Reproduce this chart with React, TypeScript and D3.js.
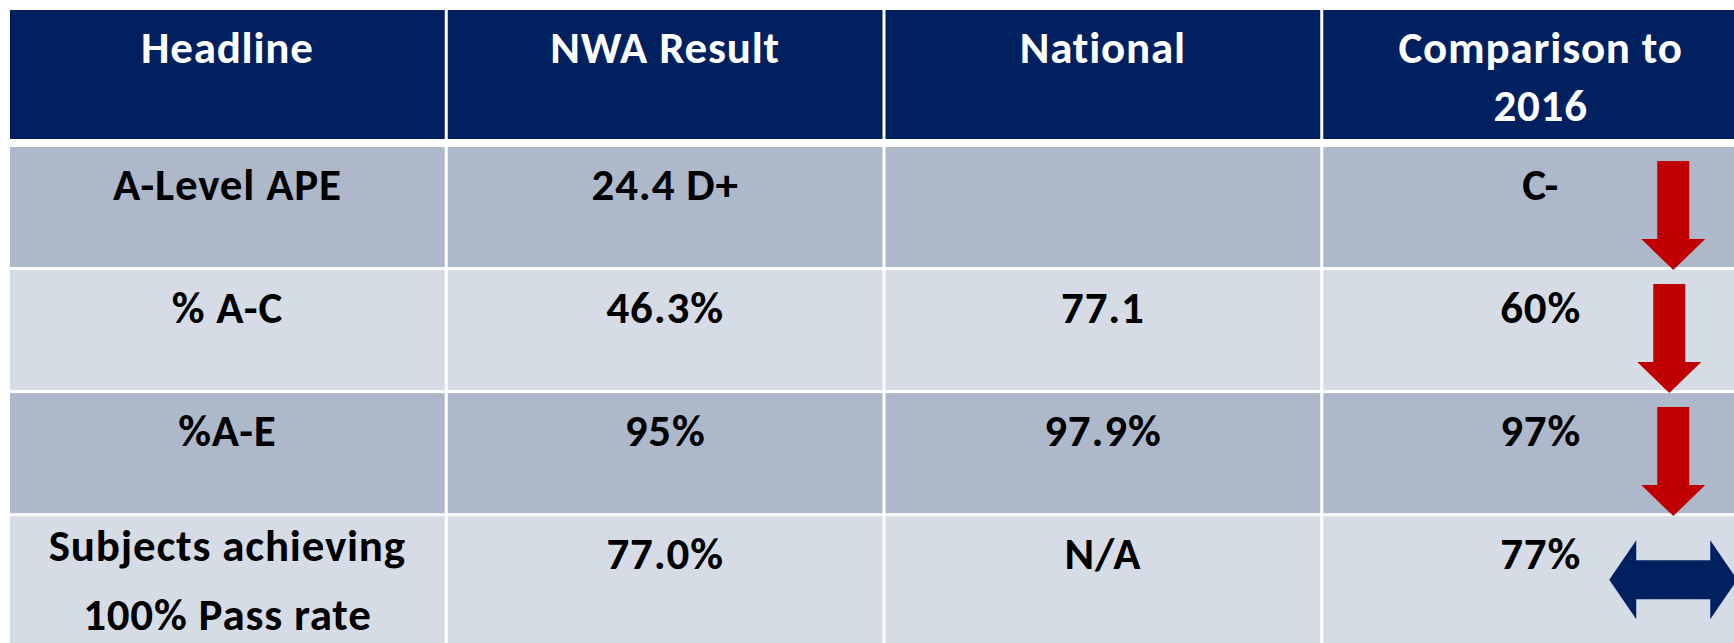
import React from 'react';
import * as d3 from 'd3';

// table content
const headers: string[][] = [['Headline'], ['NWA Result'], ['National'], ['Comparison to', '2016']];
const rowLabels: string[][] = [
  ['A-Level APE'],
  ['% A-C'],
  ['%A-E'],
  ['Subjects achieving', '100% Pass rate']
];
const nwaResults = ['24.4 D+', '46.3%', '95%', '77.0%'];
const nationalValues = ['', '77.1', '97.9%', 'N/A'];
const comparison2016 = ['C-', '60%', '97%', '77%'];
const trends = ['down', 'down', 'down', 'level'];

const W = 1734;
const H = 643;
const FONT = "Carlito, Lato, 'Open Sans', sans-serif";

const NAVY = '#002060';
const BAND_DARK = '#adb8ca';
const BAND_LIGHT = '#d5dce6';
const RED = '#c00000';

const App: React.FC = () => {
  // columns: 4 equal bands, the last one runs off the right edge
  const x = d3.scaleBand<number>()
    .domain([0, 1, 2, 3])
    .range([10, 10 + 4 * 437])
    .paddingInner(3 / 437)
    .paddingOuter(0);

  const headerTop = 10;
  const headerH = 129;
  const bodyTop = 147;
  const pitch = 122.3;

  const y = d3.scaleBand<number>()
    .domain(d3.range(rowLabels.length))
    .range([bodyTop, bodyTop + rowLabels.length * pitch])
    .paddingInner(3 / pitch)
    .paddingOuter(0);

  const bodyRows = rowLabels.map((label, i) => [label, [nwaResults[i]], [nationalValues[i]], [comparison2016[i]]]);

  const downArrow = (cx: number, top: number, len: number) => {
    const p = d3.path();
    const hs = 16, hh = 32, hl = 31;
    p.moveTo(cx - hs, top);
    p.lineTo(cx + hs, top);
    p.lineTo(cx + hs, top + len - hl);
    p.lineTo(cx + hh, top + len - hl);
    p.lineTo(cx, top + len);
    p.lineTo(cx - hh, top + len - hl);
    p.lineTo(cx - hs, top + len - hl);
    p.closePath();
    return p.toString();
  };

  const levelArrow = (cx: number, cy: number) => {
    const p = d3.path();
    const hw = 64, hl = 27, hh = 39.5, sh = 19.5;
    p.moveTo(cx - hw, cy);
    p.lineTo(cx - hw + hl, cy - hh);
    p.lineTo(cx - hw + hl, cy - sh);
    p.lineTo(cx + hw - hl, cy - sh);
    p.lineTo(cx + hw - hl, cy - hh);
    p.lineTo(cx + hw, cy);
    p.lineTo(cx + hw - hl, cy + hh);
    p.lineTo(cx + hw - hl, cy + sh);
    p.lineTo(cx - hw + hl, cy + sh);
    p.lineTo(cx - hw + hl, cy + hh);
    p.closePath();
    return p.toString();
  };

  const colCenter = (c: number) => (x(c) as number) + x.bandwidth() / 2;
  const arrowX = (x(3) as number) + 350;

  return (
    <svg
      width={W}
      height={H}
      style={{ position: 'absolute', left: 0, top: 0, background: '#fff' }}
      fontFamily={FONT}
      fontWeight={700}
      fontSize={45}
      letterSpacing={0.8}
    >
      {/* header row */}
      {headers.map((lines, c) => (
        <g key={`h${c}`}>
          <rect x={x(c)} y={headerTop} width={x.bandwidth()} height={headerH} fill={NAVY} />
          <text x={colCenter(c)} y={headerTop + 53} textAnchor="middle" fill="#fff">
            {lines.map((t, k) => (
              <tspan key={k} x={colCenter(c)} dy={k === 0 ? 0 : 58}>{t}</tspan>
            ))}
          </text>
        </g>
      ))}

      {/* body rows */}
      {bodyRows.map((cells, r) => {
        const top = y(r) as number;
        const h = r === bodyRows.length - 1 ? H - top + 5 : y.bandwidth();
        return (
          <g key={`r${r}`}>
            {cells.map((lines, c) => (
              <g key={c}>
                <rect x={x(c)} y={top} width={x.bandwidth()} height={h} fill={r % 2 === 0 ? BAND_DARK : BAND_LIGHT} />
                {lines.map((t, k) => (
                  <text
                    key={k}
                    x={colCenter(c)}
                    y={top + (lines.length > 1 ? 45 + k * 69 : 53)}
                    textAnchor="middle"
                    fill="#000"
                  >
                    {t}
                  </text>
                ))}
              </g>
            ))}
          </g>
        );
      })}

      {/* trend arrows */}
      {trends.map((t, r) => {
        const top = y(r) as number;
        if (t === 'down') {
          const shift = r === 1 ? -4 : 0;
          return <path key={`a${r}`} d={downArrow(arrowX + shift, top + 14, 109)} fill={RED} />;
        }
        return <path key={`a${r}`} d={levelArrow(arrowX, top + 63.5)} fill={NAVY} />;
      })}
    </svg>
  );
};

export default App;
